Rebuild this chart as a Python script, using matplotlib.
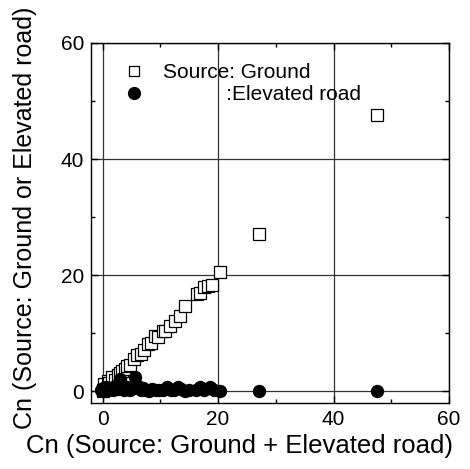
import matplotlib
matplotlib.use("Agg")
import matplotlib.pyplot as plt
from matplotlib.ticker import MultipleLocator

plt.rcParams['font.family'] = ['Liberation Sans', 'DejaVu Sans']

# Source: Ground (open squares)
ground_x = [0.0, 0.1, 0.2, 0.3, 0.5, 0.3, 0.9, 1.2, 1.7, 2.1, 2.6, 3.0, 3.4, 3.9, 4.3, 4.8,
            5.5, 6.0, 6.6, 7.2, 7.8, 8.4, 9.1, 9.6, 10.5, 10.9, 11.7, 12.6, 13.4, 14.3,
            16.3, 16.9, 17.5, 18.3, 18.9, 20.3, 27.1, 47.6]
ground_y = [0.0, 0.2, 0.4, 0.6, 0.8, 1.2, 1.8, 1.4, 2.4, 2.0, 2.9, 3.1, 3.5, 3.8, 4.4, 4.6,
            5.5, 6.2, 6.5, 7.2, 8.1, 8.3, 9.5, 9.3, 10.4, 10.4, 11.3, 12.1, 13.0, 14.7,
            16.7, 17.0, 18.0, 18.2, 18.4, 20.5, 27.1, 47.6]

# Source: Elevated road (filled circles)
elev_x = [-0.3, 0.0, 0.3, 0.6, 1.0, 1.4, 1.8, 2.2, 2.6, 3.1, 3.4, 3.8, 4.2, 4.7, 5.2, 5.7,
          6.1, 6.6, 7.0, 7.5, 8.0, 8.6, 9.2, 9.8, 10.5, 11.2, 11.8, 12.4, 13.1, 13.6, 14.3,
          15.0, 16.2, 16.9, 17.6, 18.6, 19.3, 20.3, 27.1, 47.6]
elev_y = [0.2, 0.5, 0.1, 0.8, 0.3, 0.6, 0.2, 0.9, 0.4, 2.1, 0.6, 0.2, 0.8, 0.3, 0.5, 2.4,
          0.9, 0.2, 0.6, 0.3, 0.1, 0.4, 0.2, 0.3, 0.2, 0.8, 0.3, 0.2, 0.8, 0.4, 0.1,
          0.2, 0.3, 0.8, 0.2, 0.8, 0.3, 0.1, 0.1, 0.1]

fig = plt.figure(figsize=(4.70, 4.69), dpi=100)
ax = fig.add_axes([91/470, 1 - 403/469, (449 - 91)/470, (403 - 43)/469])

ax.set_xlim(-2, 60)
ax.set_ylim(-2, 60)
ax.xaxis.set_major_locator(MultipleLocator(20))
ax.yaxis.set_major_locator(MultipleLocator(20))
ax.xaxis.set_minor_locator(MultipleLocator(10))
ax.yaxis.set_minor_locator(MultipleLocator(10))
ax.grid(True, which='major', color='#333333', linewidth=0.9)
ax.set_axisbelow(True)
ax.tick_params(which='both', direction='in', top=True, right=True, labelsize=15, width=1)
ax.tick_params(which='major', length=5, pad=5)
ax.tick_params(which='minor', length=3)
for s in ax.spines.values():
    s.set_linewidth(1.0)

ax.plot(ground_x, ground_y, linestyle='none', marker='s', markersize=8,
        markerfacecolor='white', markeredgecolor='black', markeredgewidth=0.9,
        label='Source: Ground', zorder=3)
ax.plot(elev_x, elev_y, linestyle='none', marker='o', markersize=8.6,
        markerfacecolor='black', markeredgecolor='black',
        label='           :Elevated road', zorder=4)

leg = ax.legend(loc='upper left', bbox_to_anchor=(0.063, 0.967), frameon=False,
                fontsize=15, handletextpad=0.75, labelspacing=0.15,
                handlelength=1.2, borderaxespad=0)
leg.legend_handles[0].set_markersize(7.5)
leg.legend_handles[1].set_markersize(8.5)

ax.set_xlabel('Cn (Source: Ground + Elevated road)', fontsize=18.5)
ax.xaxis.set_label_coords(0.416, -0.085)
ax.set_ylabel('Cn (Source: Ground or Elevated road)', fontsize=18)
ax.yaxis.set_label_coords(-0.15, 0.515)

fig.savefig('out.png', dpi=100)
